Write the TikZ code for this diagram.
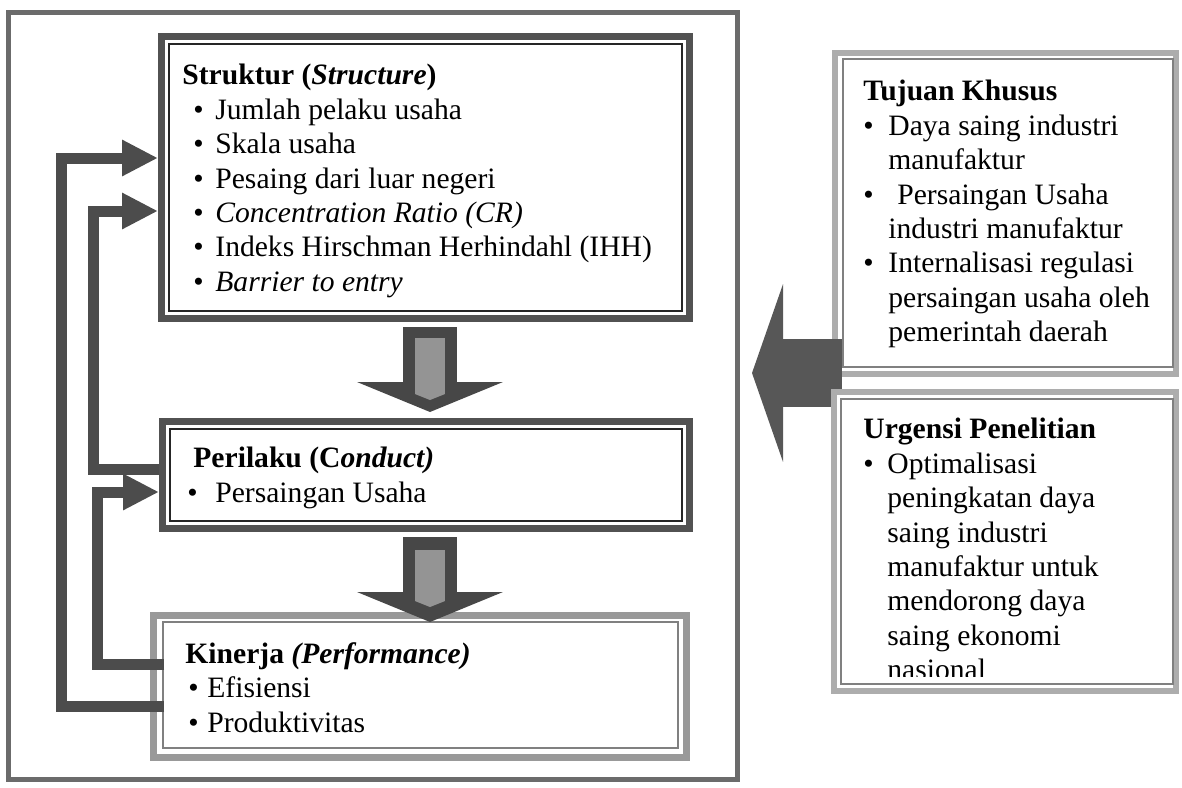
\documentclass[tikz,border=0pt]{standalone}
\usepackage{fontspec}
\setmainfont{Liberation Serif}
\usetikzlibrary{arrows.meta,positioning}
\newcommand{\bul}[2]{\hspace*{#1}\makebox[#2][l]{\textbullet}}
\tikzset{
  frame/.style={
    draw = black!58,
    line width = 2.5pt
  },
  darkbox/.style={
    draw = black!68,
    line width = 3.5pt,
    fill = white,
    inner sep = 0pt
  },
  lightbox/.style={
    draw = black!40,
    line width = 3.5pt,
    fill = white,
    inner sep = 0pt
  },
  sidebox/.style={
    draw = black!32,
    line width = 3pt,
    fill = white,
    inner sep = 0pt
  },
  darkline/.style={draw = black!85, line width = 0.8pt},
  lightline/.style={draw = black!50, line width = 0.8pt},
  txt/.style={
    anchor = north west,
    inner sep = 0pt,
    align = left
  },
  fback/.style={
    draw = black!70,
    line width = 5.5pt,
    -{Triangle[length=18pt,width=17pt]}
  },
  blockdown/.style={
    draw = black!72,
    line width = 27pt,
    -{Triangle[length=15pt,width=72.5pt]}
  },
  strip/.style={
    draw = black!42,
    line width = 15pt,
    -{Triangle[length=3pt,width=15pt]}
  },
  bigleft/.style={
    draw = black!66,
    line width = 34pt,
    -{Triangle[length=15.5pt,width=88.5pt]}
  }
}

\begin{document}
\begin{tikzpicture}[x=0.5pt, y=-0.5pt, font=\fontsize{14.8}{17.2}\selectfont]
\useasboundingbox (0,0) rectangle (1182,787);
\node[frame, minimum width=364.5pt, minimum height=383.5pt] (frame) at (373,396) {};
% SCP boxes
\node[darkbox, minimum width=264pt, minimum height=141pt] (str) at (425.5,177.5) {};
\node[darkbox, minimum width=263.5pt, minimum height=53.5pt] (per) at (426,475) {};
\node[lightbox, minimum width=266.5pt, minimum height=71pt] (kin) at (420,686.5) {};
\foreach \b in {str,per}
  \draw[darkline] ([shift={(5.5pt,-5.5pt)}]\b.north west) rectangle ([shift={(-5.5pt,5.5pt)}]\b.south east);
\draw[lightline] ([shift={(6.5pt,-5pt)}]kin.north west) rectangle ([shift={(-6pt,6.5pt)}]kin.south east);

\node[txt] (strtxt) at (182,64) {\textbf{Struktur (\textit{Structure})}\\
  \bul{5.5pt}{11pt}Jumlah pelaku usaha\\
  \bul{5.5pt}{11pt}Skala usaha\\
  \bul{5.5pt}{11pt}Pesaing dari luar negeri\\
  \bul{5.5pt}{11pt}\textit{Concentration Ratio (CR)}\\
  \bul{5.5pt}{11pt}Indeks Hirschman Herhindahl (IHH)\\
  \bul{5.5pt}{11pt}\textit{Barrier to entry}};
\node[txt] (pertxt) at (186,447) {\hspace*{3.5pt}\textbf{Perilaku (C\textit{onduct)}}\\
  \bul{0.5pt}{14pt}Persaingan Usaha};
\node[txt] (kintxt) at (185,642) {\textbf{Kinerja \textit{(Performance)}}\\
  \bul{1.5pt}{9.5pt}Efisiensi\\
  \bul{1.5pt}{9.5pt}Produktivitas};

% feedback
\coordinate (colA) at (61,0);
\coordinate (colB) at (93,0);
\coordinate (colC) at (97,0);
\coordinate (kinA) at ([xshift=7pt,yshift=-9.75pt]kin.west);
\coordinate (strA) at ([yshift=9.75pt]str.west);
\coordinate (perB) at ([yshift=3pt]per.west);
\coordinate (strB) at ([yshift=-16.75pt]str.west);
\coordinate (kinC) at ([xshift=7pt,yshift=11.25pt]kin.west);
\coordinate (perC) at ([yshift=-8.5pt]per.west);
\draw[fback] (kinA) -| (colA |- strA) -- (strA);
\draw[fback] (perB) -| (colB |- strB) -- (strB);
\draw[fback] (kinC) -| (colC |- perC) -- (perC);

% down arrows
\draw[blockdown] ([xshift=2.25pt,yshift=-2.5pt]str.south) -- ([xshift=2pt,yshift=3pt]per.north);
\draw[strip] ([xshift=2.25pt,yshift=-8pt]str.south) -- ([xshift=2pt,yshift=9pt]per.north);
\draw[blockdown] ([xshift=2pt,yshift=-2.5pt]per.south) -- ([xshift=5pt,yshift=-5pt]kin.north);
\draw[strip] ([xshift=2pt,yshift=-9pt]per.south) -- ([xshift=5pt,yshift=2.5pt]kin.north);

% right side
\node[sidebox, minimum width=170.5pt, minimum height=160.5pt] (tuj) at (1005.5,213.5) {};
\draw[lightline] ([shift={(5.5pt,-4.5pt)}]tuj.north west) rectangle ([shift={(-3pt,5pt)}]tuj.south east);
\node[txt] (tujtxt) at (863,80) {\textbf{Tujuan Khusus}\\
  \bul{0pt}{12.5pt}Daya saing industri\\
  \hspace*{12.5pt}manufaktur\\
  \bul{0pt}{17pt}Persaingan Usaha\\
  \hspace*{12.5pt}industri manufaktur\\
  \bul{0pt}{12.5pt}Internalisasi regulasi\\
  \hspace*{12.5pt}persaingan usaha oleh\\
  \hspace*{12.5pt}pemerintah daerah};

\coordinate (src) at ([xshift=5pt,yshift=2pt]tuj.south west);
\path (src -| frame.east) coordinate (fe);
\coordinate (dst) at ([xshift=6pt]fe);
\draw[bigleft] (src) -- (dst);

\node[sidebox, minimum width=171pt, minimum height=149.5pt] (urg) at (1005,541.5) {};
\draw[lightline] ([shift={(5pt,-5pt)}]urg.north west) rectangle ([shift={(-3pt,5pt)}]urg.south east);
\begin{scope}
\clip (845,402) rectangle (1170,676);
\node[txt] (urgtxt) at (863,418) {\textbf{Urgensi Penelitian}\\
  \bul{0pt}{12pt}Optimalisasi\\
  \hspace*{12pt}peningkatan daya\\
  \hspace*{12pt}saing industri\\
  \hspace*{12pt}manufaktur untuk\\
  \hspace*{12pt}mendorong daya\\
  \hspace*{12pt}saing ekonomi\\
  \hspace*{12pt}nasional};
\end{scope}
\end{tikzpicture}
\end{document}
